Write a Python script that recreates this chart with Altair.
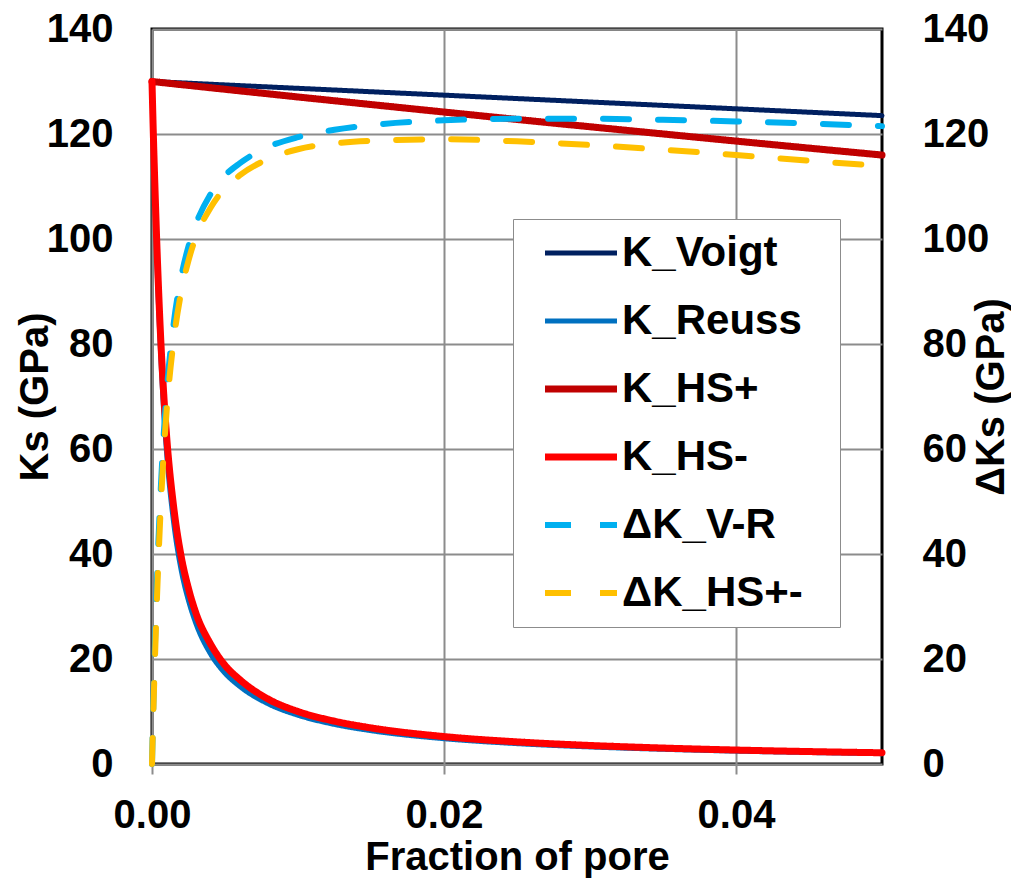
import altair as alt
import pandas as pd

# ---------------- data ----------------
fraction = [0, 0.0001, 0.0002, 0.0003, 0.0004, 0.0006, 0.0008, 0.001, 0.0015, 0.002,
            0.0025, 0.003, 0.004, 0.005, 0.006, 0.008, 0.01, 0.0125, 0.015, 0.02,
            0.025, 0.03, 0.035, 0.04, 0.045, 0.05]

k_voigt = [130, 129.99, 129.97, 129.96, 129.95, 129.92, 129.90, 129.87, 129.81, 129.74,
           129.68, 129.61, 129.48, 129.35, 129.22, 128.96, 128.70, 128.38, 128.05, 127.40,
           126.75, 126.10, 125.45, 124.80, 124.15, 123.50]

k_reuss = [130, 117.8, 107.6, 98.5, 90.5, 77.5, 67.2, 59.2, 45.6, 36.9,
           31.1, 26.8, 21.0, 17.3, 14.8, 11.4, 9.29, 7.54, 6.35, 4.82,
           3.88, 3.25, 2.80, 2.45, 2.19, 1.97]

k_hs_plus = [130, 129.97, 129.94, 129.91, 129.88, 129.82, 129.76, 129.70, 129.55, 129.40,
             129.26, 129.11, 128.81, 128.52, 128.22, 127.64, 127.05, 126.33, 125.61, 124.18,
             122.77, 121.38, 120.01, 118.65, 117.31, 115.99]

k_hs_minus = [130, 119.2, 110.0, 101.5, 93.9, 80.8, 70.6, 62.5, 48.6, 39.5,
              33.4, 28.8, 22.9, 18.8, 16.1, 12.3, 10.0, 8.15, 6.87, 5.22,
              4.21, 3.53, 3.04, 2.66, 2.37, 2.14]

dk_v_r = [0, 12.2, 22.4, 31.5, 39.5, 52.4, 62.7, 70.7, 84.2, 92.8,
          98.6, 102.8, 108.5, 112.1, 114.4, 117.6, 119.4, 120.8, 121.7, 122.6,
          122.9, 122.9, 122.7, 122.4, 122.0, 121.5]

dk_hs = [0, 10.8, 19.9, 28.4, 36.0, 49.0, 59.2, 67.2, 81.0, 89.9,
         95.9, 100.3, 105.9, 109.7, 112.1, 115.3, 117.1, 118.2, 118.7, 119.0,
         118.6, 117.9, 117.0, 116.0, 114.9, 113.9]

series_names = ["K_Voigt", "K_Reuss", "K_HS+", "K_HS-", "ΔK_V-R", "ΔK_HS+-"]
series_values = [k_voigt, k_reuss, k_hs_plus, k_hs_minus, dk_v_r, dk_hs]
left_series = series_names[:4]
right_series = series_names[4:]

y_ticks = [0, 20, 40, 60, 80, 100, 120, 140]
x_ticks = [0, 0.02, 0.04]

# ---------------- styles ----------------
colors = ["#002060", "#0070C0", "#C00000", "#FF0000", "#00B0F0", "#FFC000"]
widths = [5, 5, 7, 7, 6, 6]
dashes = [[1, 0], [1, 0], [1, 0], [1, 0], [26, 29], [26, 29]]

FONT = "Liberation Sans"
GRID = "#8c8c8c"

rows = []
for name, vals in zip(series_names, series_values):
    for f, v in zip(fraction, vals):
        rows.append({"f": f, "value": v, "series": name})
df = pd.DataFrame(rows)

legend = alt.Legend(
    orient="none", legendX=361, legendY=190,
    symbolType="M-3,0H3", symbolSize=576, symbolOffset=34,
    labelOffset=20, padding=13, rowPadding=26,
    labelFontSize=42, labelFont=FONT, labelFontWeight="bold", labelColor="black",
    labelLimit=500, labelExpr="datum.label + '\u00a0\u00a0\u200b'",
    strokeColor=GRID, fillColor="white",
)

color_enc = alt.Color("series:N", title=None, legend=legend,
                      scale=alt.Scale(domain=series_names, range=colors))
dash_enc = alt.StrokeDash("series:N", title=None, legend=legend,
                          scale=alt.Scale(domain=series_names, range=dashes))
width_enc = alt.StrokeWidth("series:N", title=None, legend=legend,
                            scale=alt.Scale(type="ordinal", domain=series_names, range=widths))

x_enc = alt.X(
    "f:Q",
    scale=alt.Scale(domain=[0, 0.05], nice=False, zero=False),
    axis=alt.Axis(
        values=x_ticks, format=".2f", title="Fraction of pore",
        grid=True, gridColor=GRID, gridWidth=2, domain=False,
        ticks=True, tickColor=GRID, tickWidth=2, tickSize=10,
        labelPadding=21, labelFontSize=40, labelFont=FONT, labelFontWeight="bold",
        labelColor="black", labelFlush=False, labelOverlap=False,
        titleFontSize=40, titleFont=FONT, titleFontWeight="bold", titleColor="black",
        titleX=365, titleY=105, titleBaseline="alphabetic", titleAlign="center",
    ),
)


def y_axis(orient):
    left = orient == "left"
    return alt.Axis(
        orient=orient, values=y_ticks, format="d",
        title="Ks (GPa)" if left else "ΔKs (GPa)",
        grid=left, gridColor=GRID, gridWidth=2, domain=False,
        ticks=False, tickSize=0,
        labelPadding=39 if left else 40, labelFontSize=40, labelFont=FONT,
        labelFontWeight="bold", labelColor="black", labelFlush=False, labelOverlap=False,
        titleFontSize=40, titleFont=FONT, titleFontWeight="bold", titleColor="black",
        titleAngle=270, titleX=-105 if left else 121, titleY=367.5,
        titleBaseline="alphabetic", titleAlign="center",
    )


def series_layer(name, orient):
    return (
        alt.Chart(df)
        .transform_filter(alt.FieldEqualPredicate(field="series", equal=name))
        .mark_line(strokeCap="round", strokeJoin="round", interpolate="monotone")
        .encode(
            x=x_enc,
            y=alt.Y("value:Q", scale=alt.Scale(domain=[0, 140], nice=False), axis=y_axis(orient)),
            color=color_enc,
            strokeDash=dash_enc,
            strokeWidth=width_enc,
        )
    )


left_layer = alt.layer(*[series_layer(n, "left") for n in left_series])
right_layer = alt.layer(*[series_layer(n, "right") for n in right_series])

chart = (
    alt.layer(left_layer, right_layer)
    .resolve_scale(y="independent")
    .properties(
        width=730, height=735,
        padding={"left": 144, "top": 21, "right": 129, "bottom": 117},
        autosize=alt.AutoSizeParams(type="none"),
        background="white",
    )
    .configure_view(stroke="black", strokeWidth=3)
)

chart.save("out.html", embed_options={"renderer": "svg", "actions": False})
